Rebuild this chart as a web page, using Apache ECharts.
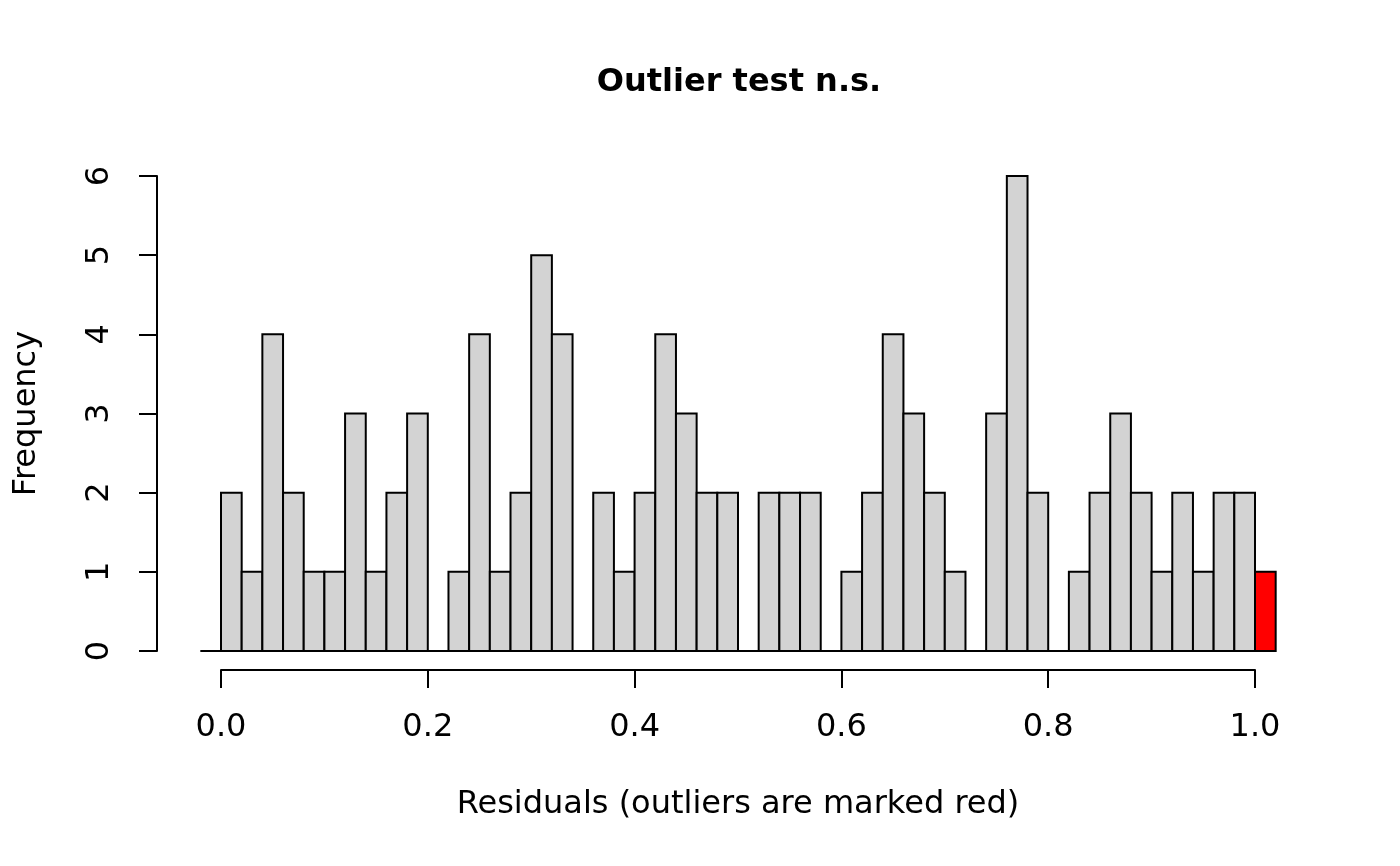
<!DOCTYPE html>
<html>
<head>
<meta charset="utf-8">
<script src="https://cdn.jsdelivr.net/npm/echarts@6/dist/echarts.min.js"></script>
<style>html,body{margin:0;padding:0;background:#fff}#c{width:1400px;height:866px}</style>
</head>
<body>
<div id="c"></div>
<script>
// Histogram bin edges (breaks)
const binEdges = [-0.02, 0.00, 0.02, 0.04, 0.06, 0.08, 0.10, 0.12, 0.14, 0.16, 0.18,
  0.20, 0.22, 0.24, 0.26, 0.28, 0.30, 0.32, 0.34, 0.36, 0.38,
  0.40, 0.42, 0.44, 0.46, 0.48, 0.50, 0.52, 0.54, 0.56, 0.58,
  0.60, 0.62, 0.64, 0.66, 0.68, 0.70, 0.72, 0.74, 0.76, 0.78,
  0.80, 0.82, 0.84, 0.86, 0.88, 0.90, 0.92, 0.94, 0.96, 0.98,
  1.00, 1.02];
// Counts per bin
const counts = [0,
  2, 1, 4, 2, 1, 1, 3, 1, 2, 3,
  0, 1, 4, 1, 2, 5, 4, 0, 2, 1,
  2, 4, 3, 2, 2, 0, 2, 2, 2, 0,
  1, 2, 4, 3, 2, 1, 0, 3, 6, 2,
  0, 1, 2, 3, 2, 1, 2, 1, 2, 2,
  1];
// Outlier counts per bin (drawn red)
const outlierCounts = [0,
  0, 0, 0, 0, 0, 0, 0, 0, 0, 0,
  0, 0, 0, 0, 0, 0, 0, 0, 0, 0,
  0, 0, 0, 0, 0, 0, 0, 0, 0, 0,
  0, 0, 0, 0, 0, 0, 0, 0, 0, 0,
  0, 0, 0, 0, 0, 0, 0, 0, 0, 0,
  1];
const xTicks = [0, 0.2, 0.4, 0.6, 0.8, 1.0];
const yTicks = [0, 1, 2, 3, 4, 5, 6];

const titleText = 'Outlier test n.s.';
const xName = 'Residuals (outliers are marked red)';
const yName = 'Frequency';

const data = counts.map((c, i) => [binEdges[i], binEdges[i + 1], c, outlierCounts[i]]);

const FONT = 'DejaVu Sans';
const FS = 32;
const chart = echarts.init(document.getElementById('c'), null, {renderer: 'canvas'});

function renderBar(params, api) {
  const x0 = api.value(0), x1 = api.value(1), c = api.value(2), o = api.value(3);
  const p0 = api.coord([x0, 0]);
  const p1 = api.coord([x1, c]);
  const fill = o > 0 ? '#FF0000' : '#D3D3D3';
  return {
    type: 'rect',
    shape: {x: p0[0], y: p1[1], width: p1[0] - p0[0], height: p0[1] - p1[1]},
    style: {fill: fill, stroke: '#000', lineWidth: 2}
  };
}

chart.setOption({
  animation: false,
  backgroundColor: '#fff',
  title: {
    text: titleText,
    left: 738,
    top: 62,
    textAlign: 'center',
    textStyle: {fontFamily: FONT, fontWeight: 'bold', fontSize: 32, color: '#000', lineHeight: 32}
  },
  grid: {left: 221, right: 145, top: 176, bottom: 215, containLabel: false},
  xAxis: {
    type: 'value', min: 0, max: 1, interval: 0.2, offset: 19,
    name: xName, nameLocation: 'middle', nameGap: 119,
    nameTextStyle: {fontFamily: FONT, fontSize: FS, color: '#000', lineHeight: FS},
    axisLine: {show: true, onZero: false, lineStyle: {color: '#000', width: 2}},
    axisTick: {show: true, length: 18, lineStyle: {color: '#000', width: 2}},
    axisLabel: {fontFamily: FONT, fontSize: FS, color: '#000', margin: 42, lineHeight: FS,
      formatter: v => xTicks.indexOf(+v.toFixed(1)) >= 0 ? v.toFixed(1) : ''},
    splitLine: {show: false}
  },
  yAxis: {
    type: 'value', min: 0, max: 6, interval: 1, offset: 64,
    name: yName, nameLocation: 'middle', nameGap: 114,
    nameTextStyle: {fontFamily: FONT, fontSize: FS, color: '#000', lineHeight: FS},
    axisLine: {show: true, onZero: false, lineStyle: {color: '#000', width: 2}},
    axisTick: {show: true, length: 18, lineStyle: {color: '#000', width: 2}},
    axisLabel: {fontFamily: FONT, fontSize: FS, color: '#000', margin: 41, rotate: 90, lineHeight: FS,
      formatter: v => yTicks.indexOf(v) >= 0 ? String(v) : ''},
    splitLine: {show: false}
  },
  series: [{
    type: 'custom',
    clip: false,
    renderItem: renderBar,
    encode: {x: [0, 1], y: 2},
    data: data
  }]
});
// shift title to match reference centre
chart.setOption({title: {left: 734}});
</script>
</body>
</html>
